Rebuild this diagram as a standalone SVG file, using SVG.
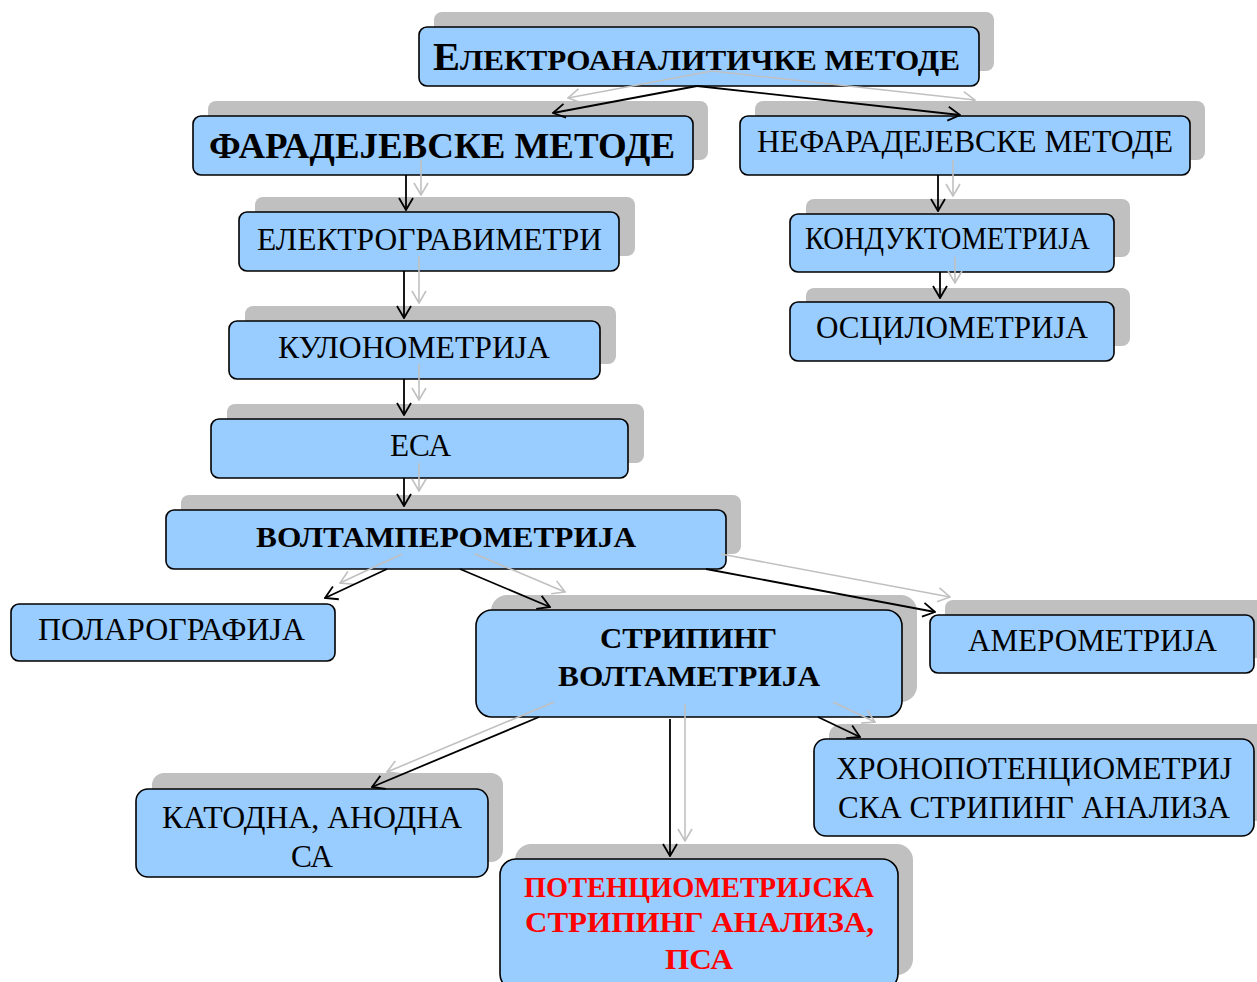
<svg xmlns="http://www.w3.org/2000/svg" width="1257" height="982" viewBox="0 0 1257 982">
<defs>
<style>
.sh{fill:#c0c0c0}
.bx{fill:#99ccff;stroke:#000;stroke-width:1.6}
.t{font-family:"Liberation Serif","Times New Roman",serif;font-size:31px;fill:#000}
.b{font-weight:bold;font-size:30px}
.red{fill:#ff0000}
.cs{stroke:#c0c0c0;stroke-width:1.6;fill:none;marker-end:url(#ag)}
.cb{stroke:#000;stroke-width:1.8;fill:none;marker-end:url(#ab)}
</style>
<marker id="ab" viewBox="0 0 14 16" refX="13" refY="8" markerWidth="14" markerHeight="16" markerUnits="userSpaceOnUse" orient="auto">
<path d="M1,1 L13,8 L1,15" fill="none" stroke="#000" stroke-width="1.8"/>
</marker>
<marker id="ag" viewBox="0 0 14 16" refX="13" refY="8" markerWidth="14" markerHeight="16" markerUnits="userSpaceOnUse" orient="auto">
<path d="M1,1 L13,8 L1,15" fill="none" stroke="#c0c0c0" stroke-width="1.6"/>
</marker>
</defs>
<rect width="1257" height="982" fill="#fff"/>

<g id="n-elektroanaliticke">
<rect class="sh" x="434" y="12" width="560" height="59" rx="8"/>
<rect class="bx" x="419" y="27" width="560" height="59" rx="8"/>
<text class="t b" x="433" y="70" textLength="527" lengthAdjust="spacingAndGlyphs"><tspan style="font-size:39px">Е</tspan><tspan style="font-size:30px">ЛЕКТРОАНАЛИТИЧКЕ МЕТОДЕ</tspan></text>
</g>

<g id="n-faradejevske">
<rect class="sh" x="208" y="101" width="500" height="59" rx="8"/>
<rect class="bx" x="193" y="116" width="500" height="59" rx="8"/>
<text class="t b" x="209" y="158" textLength="466" lengthAdjust="spacingAndGlyphs" style="font-size:35px">ФАРАДЕЈЕВСКЕ МЕТОДЕ</text>
</g>

<g id="n-nefaradejevske">
<rect class="sh" x="755" y="101" width="450" height="59" rx="8"/>
<rect class="bx" x="740" y="116" width="450" height="59" rx="8"/>
<text class="t" x="757" y="152" textLength="416" lengthAdjust="spacingAndGlyphs">НЕФАРАДЕЈЕВСКЕ МЕТОДЕ</text>
</g>

<g id="n-elektrogravimetri">
<rect class="sh" x="255" y="197" width="380" height="59" rx="8"/>
<rect class="bx" x="239" y="212" width="380" height="59" rx="8"/>
<text class="t" x="257" y="250" textLength="345" lengthAdjust="spacingAndGlyphs">ЕЛЕКТРОГРАВИМЕТРИ</text>
</g>

<g id="n-konduktometrija">
<rect class="sh" x="806" y="199" width="324" height="58" rx="8"/>
<rect class="bx" x="790" y="214" width="324" height="58" rx="8"/>
<text class="t" x="805" y="249" textLength="285" lengthAdjust="spacingAndGlyphs">КОНДУКТОМЕТРИЈА</text>
</g>

<g id="n-oscilometrija">
<rect class="sh" x="806" y="288" width="324" height="58" rx="8"/>
<rect class="bx" x="790" y="302" width="324" height="59" rx="8"/>
<text class="t" x="816" y="338" textLength="272" lengthAdjust="spacingAndGlyphs">ОСЦИЛОМЕТРИЈА</text>
</g>

<g id="n-kulonometrija">
<rect class="sh" x="245" y="306" width="371" height="58" rx="8"/>
<rect class="bx" x="229" y="321" width="371" height="58" rx="8"/>
<text class="t" x="278" y="358" textLength="272" lengthAdjust="spacingAndGlyphs">КУЛОНОМЕТРИЈА</text>
</g>

<g id="n-esa">
<rect class="sh" x="227" y="404" width="417" height="59" rx="8"/>
<rect class="bx" x="211" y="419" width="417" height="59" rx="8"/>
<text class="t" x="390" y="456" textLength="61" lengthAdjust="spacingAndGlyphs">ЕСА</text>
</g>

<g id="n-voltamperometrija">
<rect class="sh" x="181" y="495" width="560" height="59" rx="8"/>
<rect class="bx" x="166" y="510" width="560" height="59" rx="8"/>
<text class="t b" x="256" y="547" textLength="380" lengthAdjust="spacingAndGlyphs">ВОЛТАМПЕРОМЕТРИЈА</text>
</g>

<g id="n-polarografija">
<rect class="bx" x="11" y="604" width="324" height="57" rx="8"/>
<text class="t" x="38" y="640" textLength="267" lengthAdjust="spacingAndGlyphs">ПОЛАРОГРАФИЈА</text>
</g>

<g id="n-striping-voltametrija">
<rect class="sh" x="491" y="595" width="426" height="107" rx="16"/>
<rect class="bx" x="476" y="610" width="426" height="107" rx="16"/>
<text class="t b" x="600" y="648" textLength="177" lengthAdjust="spacingAndGlyphs">СТРИПИНГ</text>
<text class="t b" x="558" y="686" textLength="262" lengthAdjust="spacingAndGlyphs">ВОЛТАМЕТРИЈА</text>
</g>

<g id="n-amerometrija">
<rect class="sh" x="945" y="600" width="324" height="58" rx="8"/>
<rect class="bx" x="930" y="615" width="324" height="58" rx="8"/>
<text class="t" x="968" y="651" textLength="249" lengthAdjust="spacingAndGlyphs">АМЕРОМЕТРИЈА</text>
</g>

<g id="n-hronopotenciometrijska">
<rect class="sh" x="829" y="724" width="440" height="97" rx="12"/>
<rect class="bx" x="814" y="739" width="440" height="97" rx="12"/>
<text class="t" x="836" y="779" textLength="396" lengthAdjust="spacingAndGlyphs">ХРОНОПОТЕНЦИОМЕТРИЈ</text>
<text class="t" x="838" y="818" textLength="392" lengthAdjust="spacingAndGlyphs">СКА СТРИПИНГ АНАЛИЗА</text>
</g>

<g id="n-katodna-anodna">
<rect class="sh" x="152" y="773" width="351" height="89" rx="12"/>
<rect class="bx" x="136" y="789" width="352" height="88" rx="12"/>
<text class="t" x="162" y="828" textLength="300" lengthAdjust="spacingAndGlyphs">КАТОДНА, АНОДНА</text>
<text class="t" x="291" y="867" textLength="42" lengthAdjust="spacingAndGlyphs">СА</text>
</g>

<g id="n-psa">
<rect class="sh" x="515" y="844" width="398" height="131" rx="16"/>
<rect class="bx" x="500" y="859" width="398" height="131" rx="16"/>
<text class="t b red" x="524" y="897" textLength="350" lengthAdjust="spacingAndGlyphs">ПОТЕНЦИОМЕТРИЈСКА</text>
<text class="t b red" x="525" y="932" textLength="349" lengthAdjust="spacingAndGlyphs">СТРИПИНГ АНАЛИЗА,</text>
<text class="t b red" x="665" y="969" textLength="68" lengthAdjust="spacingAndGlyphs">ПСА</text>
</g>

<g id="connectors">
<g id="connector-shadows">
<line class="cs" x1="712" y1="71" x2="568" y2="98"/>
<line class="cs" x1="712" y1="71" x2="975" y2="100"/>
<line class="cs" x1="421" y1="160" x2="421" y2="195"/>
<line class="cs" x1="953" y1="160" x2="953" y2="196"/>
<line class="cs" x1="955" y1="257" x2="955" y2="283"/>
<line class="cs" x1="419" y1="256" x2="419" y2="303"/>
<line class="cs" x1="419" y1="364" x2="419" y2="400"/>
<line class="cs" x1="419" y1="463" x2="419" y2="491"/>
<line class="cs" x1="402" y1="554" x2="340" y2="583"/>
<line class="cs" x1="475" y1="554" x2="565" y2="592"/>
<line class="cs" x1="721" y1="554" x2="950" y2="597"/>
<line class="cs" x1="554" y1="702" x2="387" y2="772"/>
<line class="cs" x1="685" y1="704" x2="685" y2="841"/>
<line class="cs" x1="833" y1="702" x2="875" y2="722"/>
</g>
<line class="cb" x1="697" y1="86" x2="553" y2="113"/>
<line class="cb" x1="697" y1="86" x2="960" y2="115"/>
<line class="cb" x1="406" y1="175" x2="406" y2="210"/>
<line class="cb" x1="938" y1="175" x2="938" y2="211"/>
<line class="cb" x1="940" y1="272" x2="940" y2="298"/>
<line class="cb" x1="404" y1="271" x2="404" y2="318"/>
<line class="cb" x1="404" y1="379" x2="404" y2="415"/>
<line class="cb" x1="404" y1="478" x2="404" y2="506"/>
<line class="cb" x1="387" y1="569" x2="325" y2="598"/>
<line class="cb" x1="460" y1="569" x2="550" y2="607"/>
<line class="cb" x1="706" y1="569" x2="935" y2="612"/>
<line class="cb" x1="539" y1="717" x2="372" y2="787"/>
<line class="cb" x1="670" y1="719" x2="670" y2="856"/>
<line class="cb" x1="818" y1="717" x2="860" y2="737"/>
</g>
</svg>
